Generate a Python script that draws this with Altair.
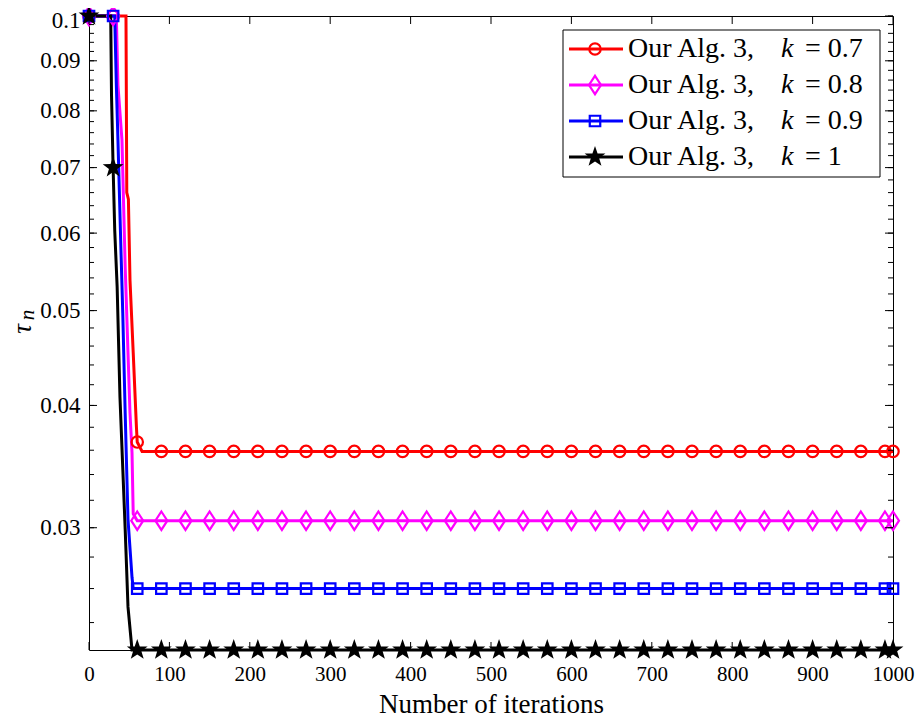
import altair as alt
import numpy as np
import pandas as pd

# ---- data ----
k_labels = ["0.7", "0.8", "0.9", "1"]

iters_red = [0, 46, 47, 49, 51, 55, 59, 60, 66, 1000]
tau_red = [0.1, 0.1, 0.066, 0.065, 0.0537, 0.0453, 0.038, 0.0367, 0.0359, 0.0359]

iters_mag = [0, 34, 36, 41, 45, 48.5, 51, 53.5, 55, 60, 1000]
tau_mag = [0.1, 0.1, 0.085, 0.0747, 0.0554, 0.0453, 0.0393, 0.0358, 0.031, 0.0305, 0.0305]

iters_blue = [0, 32, 34, 36, 40, 42, 45, 48.5, 53.5, 55, 1000]
tau_blue = [0.1, 0.1, 0.085, 0.0747, 0.0567, 0.0497, 0.0393, 0.0306, 0.0267, 0.026, 0.026]

iters_black = [0, 27, 28, 30, 32, 35, 38.5, 45, 48.5, 53.5, 1000]
tau_black = [0.1, 0.1, 0.083, 0.07, 0.0604, 0.0529, 0.0408, 0.0299, 0.0249, 0.0225, 0.0225]

marker_iters = list(range(0, 1000, 30)) + [1000]

x_ticks = list(range(0, 1001, 100))
y_labels = [0.03, 0.04, 0.05, 0.06, 0.07, 0.08, 0.09, 0.1]
y_minor = [round(0.024 + 0.002 * i, 3) for i in range(39)]

# ---- style ----
W, H = 804, 634
FONT = "Liberation Serif"
colors = ["#ff0000", "#ff00ff", "#0000ff", "#000000"]
diamond = "M0,-1L0.65,0L0,1L-0.65,0Z"
_pts = []
for j in range(10):
    ang = np.deg2rad(-90 + 36 * j)
    r = 1.0 if j % 2 == 0 else 0.40
    _pts.append(f"{r * np.cos(ang):.4f},{r * np.sin(ang):.4f}")
star = "M" + "L".join(_pts) + "Z"
shapes = ["circle", diamond, "square", star]
sizes = [130, 340, 110, 480]
filled = [False, False, False, True]

xscale = alt.Scale(domain=[0, 1000], nice=False, zero=False)
yscale = alt.Scale(type="log", domain=[0.0225, 0.1], nice=False, zero=False)

series = [
    (iters_red, tau_red),
    (iters_mag, tau_mag),
    (iters_blue, tau_blue),
    (iters_black, tau_black),
]

x_axis = alt.Axis(values=x_ticks, format="d", ticks=False, domain=False, grid=False,
                  labelFlush=False, labelOverlap=False,
                  labelFont=FONT, labelFontSize=21, labelColor="black", labelPadding=13,
                  title="Number of iterations", titleFont=FONT, titleFontSize=27,
                  titleFontWeight="normal", titleColor="black", titlePadding=7)
y_axis = alt.Axis(values=y_labels, format=".2~f", ticks=False, domain=False, grid=False,
                  labelFlush=False, labelOverlap=False,
                  labelOffset={"condition": {"test": "datum.value >= 0.099", "value": 4},
                               "value": 0},
                  labelFont=FONT, labelFontSize=23, labelColor="black", labelPadding=9,
                  title=None)


def X(field="iter:Q"):
    return alt.X(field, scale=xscale, axis=x_axis)


def Y(field="tau:Q"):
    return alt.Y(field, scale=yscale, axis=y_axis)


layers = []
for i, (its, taus) in enumerate(series):
    df = pd.DataFrame({"iter": its, "tau": taus})
    layers.append(alt.Chart(df).mark_line(color=colors[i], strokeWidth=3, clip=False)
                  .encode(x=X(), y=Y()))
for i, (its, taus) in enumerate(series):
    mv = np.interp(marker_iters, its, taus)
    dm = pd.DataFrame({"iter": marker_iters, "tau": mv})
    if filled[i]:
        pm = alt.Chart(dm).mark_point(shape=shapes[i], size=sizes[i], filled=True,
                                      color=colors[i], opacity=1)
    else:
        pm = alt.Chart(dm).mark_point(shape=shapes[i], size=sizes[i], filled=False,
                                      color=colors[i], strokeWidth=2.2, opacity=1)
    layers.append(pm.encode(x=X(), y=Y()))

# ---- inward tick marks (MATLAB style) ----
dy_major = pd.DataFrame({"tau": y_labels})
dy_minor = pd.DataFrame({"tau": y_minor})
dx = pd.DataFrame({"iter": x_ticks})
for d, L in [(dy_minor, 5), (dy_major, 8)]:
    layers.append(alt.Chart(d).mark_rule(color="black", strokeWidth=1).encode(
        x=alt.value(0), x2=alt.value(L), y=Y()))
    layers.append(alt.Chart(d).mark_rule(color="black", strokeWidth=1).encode(
        x=alt.value(W - L), x2=alt.value(W), y=Y()))
layers.append(alt.Chart(dx).mark_rule(color="black", strokeWidth=1).encode(
    y=alt.value(H), y2=alt.value(H - 8), x=X()))
layers.append(alt.Chart(dx).mark_rule(color="black", strokeWidth=1).encode(
    y=alt.value(0), y2=alt.value(8), x=X()))

one = pd.DataFrame({"a": [0]})

# ---- y-axis title: tau with subscript n ----
layers.append(alt.Chart(one).mark_text(align="center", baseline="middle", font=FONT,
                                       fontSize=27, fontStyle="italic", angle=270,
                                       color="black").encode(
    x=alt.value(-66), y=alt.value(313), text=alt.value("τ")))
layers.append(alt.Chart(one).mark_text(align="center", baseline="middle", font=FONT,
                                       fontSize=21, fontStyle="italic", angle=270,
                                       color="black").encode(
    x=alt.value(-61), y=alt.value(299), text=alt.value("n")))

# ---- legend ----
layers.append(alt.Chart(one).mark_rect(fill="white", stroke="black", strokeWidth=1).encode(
    x=alt.value(474), x2=alt.value(791), y=alt.value(14), y2=alt.value(161)))
for i in range(4):
    py = 33 + 36 * i
    layers.append(alt.Chart(one).mark_rule(color=colors[i], strokeWidth=3).encode(
        x=alt.value(480), x2=alt.value(534), y=alt.value(py)))
    if filled[i]:
        lm = alt.Chart(one).mark_point(shape=shapes[i], size=sizes[i], filled=True,
                                       color=colors[i], opacity=1)
    else:
        lm = alt.Chart(one).mark_point(shape=shapes[i], size=sizes[i], filled=False,
                                       color=colors[i], strokeWidth=2.2, opacity=1)
    layers.append(lm.encode(x=alt.value(506), y=alt.value(py)))
    layers.append(alt.Chart(one).mark_text(align="left", baseline="middle", font=FONT,
                                           fontSize=28, color="black").encode(
        x=alt.value(539), y=alt.value(py), text=alt.value("Our Alg. 3,")))
    layers.append(alt.Chart(one).mark_text(align="left", baseline="middle", font=FONT,
                                           fontSize=28, fontStyle="italic", color="black").encode(
        x=alt.value(692), y=alt.value(py), text=alt.value("k")))
    layers.append(alt.Chart(one).mark_text(align="left", baseline="middle", font=FONT,
                                           fontSize=28, color="black").encode(
        x=alt.value(716), y=alt.value(py), text=alt.value("= " + k_labels[i])))

chart = alt.layer(*layers).properties(
    width=W, height=H,
    padding={"left": 81, "top": 8, "right": 22, "bottom": 70},
    autosize=alt.AutoSizeParams(type="none"),
    background="white",
).configure_view(stroke="black", strokeWidth=1)

chart.save("out.html", embed_options={"renderer": "svg", "actions": False})
